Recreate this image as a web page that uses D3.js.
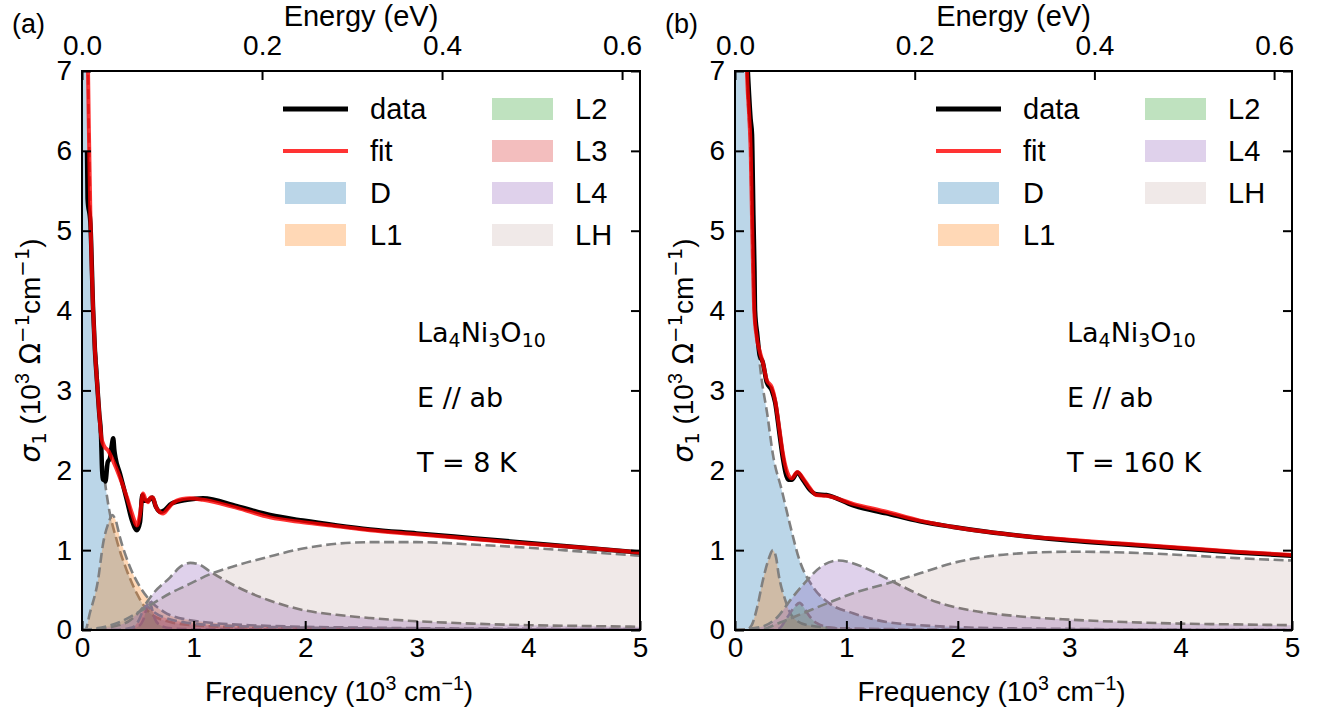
<!DOCTYPE html>
<html>
<head>
<meta charset="utf-8">
<script src="https://cdnjs.cloudflare.com/ajax/libs/d3/7.8.5/d3.min.js"></script>
<style>
  body { margin: 0; background: #fff; }
  text { font-family: "Liberation Sans", Arial, sans-serif; }
</style>
</head>
<body>
<div id="chart"></div>
<script>
// ---- values: [frequency (10^3 cm^-1), sigma1 (10^3 Ohm^-1 cm^-1)] ----

// panel (a), T = 8 K
var dataA = [[0.045, 6.0], [0.05, 5.4], [0.075, 5.1], [0.1, 4.0], [0.116, 3.5], [0.135, 3.1], [0.155, 2.7],
  [0.17, 2.45], [0.18, 2.0], [0.19, 1.88], [0.2, 1.92], [0.21, 1.86], [0.23, 2.1], [0.25, 2.15], [0.265, 2.3],
  [0.28, 2.4], [0.29, 2.25], [0.3, 2.16], [0.34, 1.96], [0.403, 1.62], [0.448, 1.37], [0.493, 1.25],
  [0.52, 1.35], [0.54, 1.69], [0.56, 1.62], [0.591, 1.62], [0.63, 1.66], [0.66, 1.55], [0.7, 1.48],
  [0.74, 1.5], [0.8, 1.58], [0.94, 1.63], [1.084, 1.65], [1.389, 1.55], [1.685, 1.44], [1.98, 1.37],
  [2.285, 1.31], [2.58, 1.26], [3.0, 1.21], [3.5, 1.15], [4.0, 1.09], [4.5, 1.03], [5.0, 0.97]];
var fitA = [[0.05, 7.6], [0.054, 7.0], [0.065, 6.0], [0.075, 5.2], [0.088, 4.5], [0.1, 4.0], [0.116, 3.5],
  [0.135, 3.1], [0.155, 2.7], [0.175, 2.4], [0.2, 2.3], [0.233, 2.25], [0.278, 2.12], [0.34, 1.91],
  [0.403, 1.66], [0.448, 1.46], [0.493, 1.31], [0.52, 1.45], [0.547, 1.71], [0.57, 1.63], [0.591, 1.6],
  [0.615, 1.66], [0.636, 1.66], [0.66, 1.55], [0.681, 1.5], [0.726, 1.46], [0.77, 1.52], [0.815, 1.59],
  [0.9, 1.64], [0.968, 1.65], [1.084, 1.63], [1.25, 1.58], [1.389, 1.53], [1.685, 1.41], [1.98, 1.35],
  [2.285, 1.3], [2.58, 1.25], [3.0, 1.2], [3.5, 1.14], [4.0, 1.08], [4.5, 1.03], [5.0, 0.97]];
var dA = [[0, 40], [0.03, 15], [0.054, 7.0], [0.065, 6.0], [0.075, 5.2], [0.1, 4.0], [0.143, 3.1], [0.16, 2.5],
  [0.19, 2.04], [0.233, 1.59], [0.31, 1.13], [0.4, 0.75], [0.49, 0.46], [0.61, 0.21], [0.79, 0.1],
  [1.0, 0.06], [1.5, 0.03], [2.5, 0.01], [5.0, 0]];
var l1A = [[0, 0], [0.03, 0], [0.07, 0.21], [0.143, 0.62], [0.19, 1.09], [0.24, 1.35], [0.27, 1.44],
  [0.3, 1.38], [0.34, 1.16], [0.43, 0.79], [0.52, 0.54], [0.61, 0.37], [0.73, 0.23], [0.94, 0.13],
  [1.5, 0.06], [2.5, 0.03], [5.0, 0.01]];
var l2A = [[0, 0], [0.4, 0], [0.5, 0.04], [0.55, 0.13], [0.58, 0.28], [0.6, 0.37], [0.62, 0.3], [0.65, 0.15],
  [0.7, 0.06], [0.8, 0.02], [1.0, 0.01], [5.0, 0]];
var l3A = [[0, 0], [0.3, 0], [0.45, 0.03], [0.5, 0.1], [0.54, 0.22], [0.57, 0.3], [0.6, 0.28], [0.65, 0.22],
  [0.75, 0.15], [0.9, 0.1], [1.2, 0.06], [2.0, 0.03], [3.0, 0.015], [5.0, 0.005]];
var l4A = [[0, 0], [0.19, 0.02], [0.3, 0.05], [0.43, 0.12], [0.55, 0.29], [0.64, 0.46], [0.79, 0.66],
  [0.88, 0.79], [0.97, 0.84], [1.05, 0.82], [1.15, 0.73], [1.39, 0.54], [1.68, 0.37], [1.98, 0.25],
  [2.28, 0.19], [2.58, 0.15], [3.0, 0.11], [3.5, 0.08], [4.0, 0.06], [4.5, 0.05], [5.0, 0.04]];
var lhA = [[0, 0], [0.13, 0.02], [0.34, 0.1], [0.49, 0.21], [0.61, 0.31], [0.79, 0.46], [0.94, 0.56],
  [1.15, 0.7], [1.39, 0.81], [1.68, 0.92], [1.98, 1.02], [2.28, 1.08], [2.58, 1.1], [3.0, 1.1],
  [3.5, 1.07], [4.0, 1.03], [4.5, 0.98], [5.0, 0.93]];

// panel (b), T = 160 K
var dataB = [[0.108, 7.2], [0.14, 6.4], [0.153, 6.2], [0.156, 6.0], [0.165, 5.2], [0.175, 4.5], [0.18, 4.0],
  [0.2, 3.7], [0.22, 3.45], [0.25, 3.35], [0.285, 3.1], [0.33, 3.0], [0.36, 2.85], [0.4, 2.45],
  [0.43, 2.15], [0.48, 1.88], [0.51, 1.88], [0.56, 1.97], [0.61, 1.88], [0.67, 1.76], [0.73, 1.7],
  [0.82, 1.69], [1.06, 1.56], [1.36, 1.46], [1.66, 1.36], [1.96, 1.29], [2.26, 1.23], [2.56, 1.18],
  [3.0, 1.12], [3.5, 1.07], [4.0, 1.02], [4.5, 0.97], [5.0, 0.93]];
var fitB = [[0.1, 7.6], [0.108, 7.0], [0.125, 6.5], [0.141, 6.0], [0.155, 5.0], [0.173, 4.0], [0.195, 3.67],
  [0.22, 3.5], [0.25, 3.35], [0.285, 3.13], [0.33, 3.04], [0.36, 2.88], [0.4, 2.5], [0.43, 2.21],
  [0.48, 1.94], [0.51, 1.9], [0.56, 1.98], [0.61, 1.9], [0.67, 1.78], [0.73, 1.69], [0.82, 1.68],
  [1.06, 1.58], [1.36, 1.48], [1.66, 1.37], [1.96, 1.29], [2.26, 1.23], [2.56, 1.18], [3.0, 1.13],
  [3.5, 1.08], [4.0, 1.03], [4.5, 0.98], [5.0, 0.94]];
var dB = [[0, 40], [0.05, 20], [0.08, 11], [0.108, 7.0], [0.141, 5.9], [0.155, 4.9], [0.173, 4.0],
  [0.197, 3.66], [0.24, 3.13], [0.29, 2.7], [0.34, 2.2], [0.42, 1.75], [0.49, 1.34], [0.58, 0.87],
  [0.7, 0.54], [0.85, 0.33], [1.06, 0.21], [1.36, 0.1], [1.66, 0.06], [2.5, 0.02], [5.0, 0]];
var l1B = [[0, 0], [0.1, 0], [0.15, 0.06], [0.2, 0.29], [0.25, 0.62], [0.3, 0.88], [0.34, 1.0], [0.37, 0.9],
  [0.39, 0.71], [0.45, 0.38], [0.52, 0.16], [0.65, 0.06], [1.0, 0.02], [2.0, 0.005], [5.0, 0]];
var l2B = [[0, 0], [0.35, 0], [0.4, 0.02], [0.47, 0.16], [0.53, 0.28], [0.58, 0.34], [0.62, 0.28],
  [0.65, 0.21], [0.73, 0.09], [0.9, 0.02], [1.2, 0.005], [5.0, 0]];
var l4B = [[0, 0], [0.24, 0.04], [0.38, 0.16], [0.5, 0.38], [0.62, 0.58], [0.77, 0.79], [0.93, 0.87],
  [1.05, 0.84], [1.21, 0.75], [1.51, 0.54], [1.81, 0.35], [2.1, 0.25], [2.56, 0.17], [3.0, 0.13],
  [3.5, 0.1], [4.0, 0.08], [4.5, 0.07], [5.0, 0.06]];
var lhB = [[0, 0], [0.24, 0.01], [0.4, 0.09], [0.61, 0.21], [0.82, 0.33], [1.06, 0.46], [1.36, 0.58],
  [1.66, 0.71], [1.96, 0.84], [2.26, 0.92], [2.56, 0.96], [3.0, 0.98], [3.5, 0.97], [4.0, 0.94],
  [4.5, 0.9], [5.0, 0.87]];

// ticks
var freqTicks = [0, 1, 2, 3, 4, 5];
var energyTicks = [0, 0.2, 0.4, 0.6];
var sigmaTicks = [0, 1, 2, 3, 4, 5, 6, 7];

var cmPerEv = 8.06554; // 10^3 cm^-1 per eV
var fs = 27, fsTick = 28, fsBig = 29;

var svg = d3.select('#chart').append('svg')
  .attr('width', 1328)
  .attr('height', 717);

// write text with sub/superscripts: parts = [[string, 'sub'|'sup'|null, font family, style]]
function rich(t, parts, size) {
  var shift = 0;
  parts.forEach(function (p) {
    var target = p[1] === 'sup' ? -0.4 * size : p[1] === 'sub' ? 0.2 * size : 0;
    var ts = t.append('tspan')
      .attr('dy', target - shift)
      .attr('font-size', p[1] ? size * 0.7 : size)
      .text(p[0]);
    if (p[2]) ts.style('font-family', p[2]);
    if (p[3]) ts.attr('font-style', p[3]);
    shift = target;
  });
}

function drawPanel(p) {
  var g = svg.append('g');
  var x = d3.scaleLinear().domain([0, 5]).range([p.left, p.right]);
  var xe = d3.scaleLinear().domain([0, 5 / cmPerEv]).range([p.left, p.right]);
  var y = d3.scaleLinear().domain([0, 7]).range([p.bottom, p.top]);

  g.append('clipPath').attr('id', 'clip' + p.tag)
    .append('rect')
    .attr('x', p.left).attr('y', p.top)
    .attr('width', p.right - p.left).attr('height', p.bottom - p.top);

  var plot = g.append('g').attr('clip-path', 'url(#clip' + p.tag + ')');

  var area = d3.area()
    .x(function (d) { return x(d[0]); })
    .y0(y(0))
    .y1(function (d) { return y(d[1]); })
    .curve(d3.curveMonotoneX);
  var line = d3.line()
    .x(function (d) { return x(d[0]); })
    .y(function (d) { return y(d[1]); })
    .curve(d3.curveMonotoneX);

  // fitted components: filled + dashed outline
  p.comps.forEach(function (c) {
    plot.append('path').datum(c.values)
      .attr('d', area)
      .attr('fill', c.color)
      .attr('fill-opacity', c.alpha);
    plot.append('path').datum(c.values)
      .attr('d', line)
      .attr('fill', 'none')
      .attr('stroke', '#808080')
      .attr('stroke-width', 2.6)
      .attr('stroke-dasharray', '10,4.5');
  });

  plot.append('path').datum(p.data)
    .attr('d', line)
    .attr('fill', 'none')
    .attr('stroke', '#000')
    .attr('stroke-width', 4.5)
    .attr('stroke-linejoin', 'round');
  plot.append('path').datum(p.fit)
    .attr('d', line)
    .attr('fill', 'none')
    .attr('stroke', 'red')
    .attr('stroke-opacity', 0.8)
    .attr('stroke-width', 4)
    .attr('stroke-linejoin', 'round');

  // axes, all ticks pointing inward
  function style(a) {
    a.select('.domain').remove();
    a.selectAll('.tick line').attr('stroke', '#000').attr('stroke-width', 2);
    a.selectAll('.tick text').attr('fill', '#000')
      .style('font-family', '"Liberation Sans", Arial, sans-serif')
      .attr('font-size', fsTick);
  }
  g.append('g').attr('transform', 'translate(0,' + p.bottom + ')')
    .call(d3.axisBottom(x).tickValues(freqTicks).tickFormat(d3.format('d')).tickSize(-9).tickPadding(7))
    .call(style);
  g.append('g').attr('transform', 'translate(0,' + p.top + ')')
    .call(d3.axisTop(xe).tickValues(energyTicks).tickFormat(d3.format('.1f')).tickSize(-9).tickPadding(16))
    .call(style);
  g.append('g').attr('transform', 'translate(' + p.left + ',0)')
    .call(d3.axisLeft(y).tickValues(sigmaTicks).tickFormat(d3.format('d')).tickSize(-9).tickPadding(10))
    .call(style);
  g.append('g').attr('transform', 'translate(' + p.right + ',0)')
    .call(d3.axisRight(y).tickValues(sigmaTicks).tickFormat('').tickSize(-9))
    .call(style);

  g.append('rect')
    .attr('x', p.left).attr('y', p.top)
    .attr('width', p.right - p.left).attr('height', p.bottom - p.top)
    .attr('fill', 'none')
    .attr('stroke', '#000')
    .attr('stroke-width', 2);

  var cx = (p.left + p.right) / 2;
  g.append('text').attr('x', cx).attr('y', 26).attr('text-anchor', 'middle')
    .attr('font-size', fsBig).text('Energy (eV)');
  rich(g.append('text').attr('x', cx - 22).attr('y', 701).attr('text-anchor', 'middle'),
    [['Frequency (10'], ['3', 'sup'], [' cm'], ['\u22121', 'sup'], [')']], fsTick);
  rich(g.append('text')
    .attr('transform', 'translate(' + (p.left - 42) + ',' + ((p.top + p.bottom) / 2) + ') rotate(-90)')
    .attr('text-anchor', 'middle'),
    [['\u03c3', null, 'DejaVu Sans', 'italic'], ['1', 'sub', 'DejaVu Sans'], [' (10'], ['3', 'sup'],
      [' \u03a9', null, 'DejaVu Sans'], ['\u22121', 'sup', 'DejaVu Sans'], ['cm'], ['\u22121', 'sup', 'DejaVu Sans'], [')']], fsTick);
  g.append('text').attr('x', p.left - 70).attr('y', 33)
    .attr('font-size', fs).text(p.label);

  // sample / conditions
  var ax = p.left + p.noteX;
  rich(g.append('text').attr('x', ax).attr('y', p.top + 271).style('font-family', 'DejaVu Sans'),
    [['La'], ['4', 'sub'], ['Ni'], ['3', 'sub'], ['O'], ['10', 'sub']], fs);
  g.append('text').attr('x', ax).attr('y', p.top + 336).style('font-family', 'DejaVu Sans')
    .attr('font-size', fs).text('E // ab');
  g.append('text').attr('x', ax).attr('y', p.top + 401).style('font-family', 'DejaVu Sans')
    .attr('font-size', fs).text('T = ' + p.temp + ' K');

  // legend: two columns
  var rows = [38, 80, 122, 164];
  var items = [{ name: 'data', kind: 'line', color: '#000', opacity: 1, w: 5 },
    { name: 'fit', kind: 'line', color: 'red', opacity: 0.8, w: 4 }]
    .concat(p.comps.map(function (c) {
      return { name: c.name, kind: 'patch', color: c.color, opacity: c.alpha };
    }));
  var leg = g.append('g');
  items.forEach(function (it, i) {
    var col = i < 4 ? 0 : 1;
    var ry = p.top + rows[i % 4];
    var hx = p.left + (col ? 408 : 201);
    if (it.kind === 'line') {
      leg.append('line')
        .attr('x1', hx).attr('x2', hx + 65).attr('y1', ry).attr('y2', ry)
        .attr('stroke', it.color).attr('stroke-opacity', it.opacity).attr('stroke-width', it.w);
    } else {
      leg.append('rect')
        .attr('x', hx + 2).attr('y', ry - 11).attr('width', 61).attr('height', 22)
        .attr('fill', it.color).attr('fill-opacity', it.opacity);
    }
    leg.append('text')
      .attr('x', hx + (col ? 85 : 87)).attr('y', ry + 10)
      .attr('font-size', fsBig).text(it.name);
  });
}

drawPanel({
  tag: 'a', label: '(a)', left: 82, right: 640, top: 71, bottom: 630, noteX: 335, temp: 8,
  data: dataA, fit: fitA,
  comps: [{ name: 'D', color: '#1f77b4', alpha: 0.3, values: dA },
    { name: 'L1', color: '#ff7f0e', alpha: 0.3, values: l1A },
    { name: 'L2', color: '#2ca02c', alpha: 0.3, values: l2A },
    { name: 'L3', color: '#d62728', alpha: 0.3, values: l3A },
    { name: 'L4', color: '#9467bd', alpha: 0.3, values: l4A },
    { name: 'LH', color: '#8c564b', alpha: 0.13, values: lhA }]
});

drawPanel({
  tag: 'b', label: '(b)', left: 735, right: 1292, top: 71, bottom: 630, noteX: 332, temp: 160,
  data: dataB, fit: fitB,
  comps: [{ name: 'D', color: '#1f77b4', alpha: 0.3, values: dB },
    { name: 'L1', color: '#ff7f0e', alpha: 0.3, values: l1B },
    { name: 'L2', color: '#2ca02c', alpha: 0.3, values: l2B },
    { name: 'L4', color: '#9467bd', alpha: 0.3, values: l4B },
    { name: 'LH', color: '#8c564b', alpha: 0.13, values: lhB }]
});
</script>
</body>
</html>
